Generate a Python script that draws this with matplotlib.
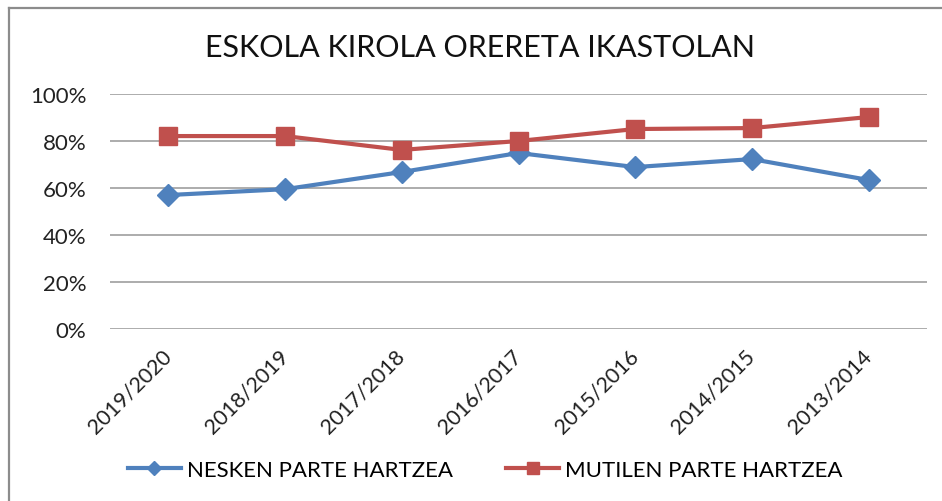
import matplotlib
matplotlib.use("Agg")
import matplotlib.pyplot as plt
from matplotlib.lines import Line2D
from matplotlib.ticker import PercentFormatter, FixedLocator

categories = ["2019/2020", "2018/2019", "2017/2018", "2016/2017",
              "2015/2016", "2014/2015", "2013/2014"]
nesken = [57.0, 59.5, 66.8, 74.9, 68.9, 72.3, 63.4]
mutilen = [82.1, 82.1, 76.2, 80.0, 85.1, 85.5, 90.2]
series_names = ["NESKEN PARTE HARTZEA", "MUTILEN PARTE HARTZEA"]
title = "ESKOLA KIROLA ORERETA IKASTOLAN"
yticks = [0, 20, 40, 60, 80, 100]

plt.rcParams['font.family'] = ['Lato', 'DejaVu Sans']

fig = plt.figure(figsize=(9.42, 5.02), dpi=100)
ax = fig.add_axes([110/942, 1-330/502, (927-110)/942, (330-95)/502])

x = list(range(len(categories)))
blue = "#4F81BD"
red = "#C0504D"
ax.plot(x, nesken, color=blue, lw=3, marker="D", markersize=11, label=series_names[0])
ax.plot(x, mutilen, color=red, lw=3, marker="s", markersize=13.5, label=series_names[1])

ax.set_xlim(-0.5, len(categories) - 0.5)
ax.set_ylim(0, 100)
ax.yaxis.set_major_locator(FixedLocator(yticks))
ax.yaxis.set_major_formatter(PercentFormatter(decimals=0))
ax.grid(axis="y", color="#A6A6A6", lw=1.3)
ax.set_axisbelow(True)
for s in ax.spines.values():
    s.set_visible(False)
ax.tick_params(axis="both", length=0, labelsize=16, colors="#222222")
ax.tick_params(axis="y", pad=17)
ax.set_xticks(x)
ax.set_xticklabels(categories, rotation=45, ha="right", va="center",
                   rotation_mode="anchor")
for lbl in ax.get_xticklabels():
    lbl.set_fontsize(15.5)
ax.tick_params(axis="x", pad=17)

fig.text(0.51, 1-48/502, title, ha="center", va="center", fontsize=22, color="#111111")

leg = fig.legend(loc="center", bbox_to_anchor=(0.515, 1-471/502), ncol=2, frameon=False,
                 fontsize=16, handlelength=2.4, columnspacing=2.4, handletextpad=0.25,
                 markerscale=0.65)

fig.add_artist(Line2D([9/942, 1], [1-9/502, 1-9/502], color="#8C8C8C", lw=1.6,
                      transform=fig.transFigure))
fig.add_artist(Line2D([9/942, 9/942], [0, 1-9/502], color="#8C8C8C", lw=1.6,
                      transform=fig.transFigure))

fig.savefig("out.png", dpi=100)
